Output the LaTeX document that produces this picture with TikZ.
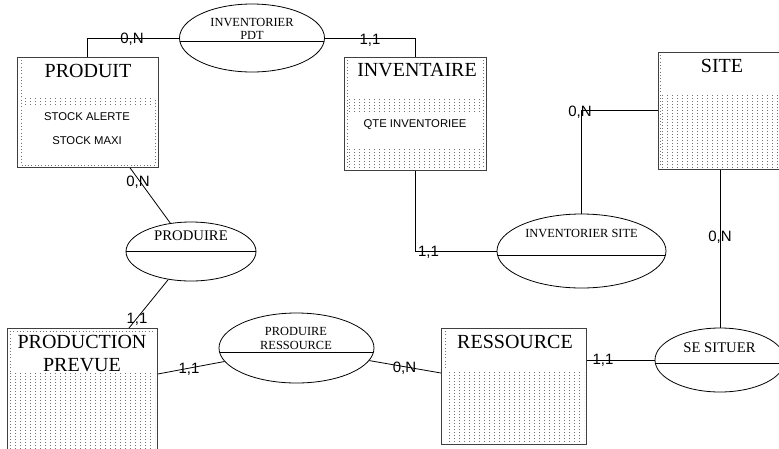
\documentclass[tikz,border=0pt]{standalone}
\usepackage{fontspec}
\setmainfont{Liberation Serif}
\newfontfamily\arialf{Liberation Sans}
\usetikzlibrary{patterns.meta,calc}
\tikzdeclarepattern{
  name=erdots,
  type=uncolored,
  bounding box={(0pt,0pt) and (5.3pt,3.3pt)},
  tile size={(5.3pt,3.3pt)},
  code={\pgfpathrectangle{\pgfpointorigin}{\pgfpoint{1pt}{1pt}}\pgfusepath{fill}}
}
\tikzset{
  entity/.style={draw=black!75, line width=0.8pt, rectangle, anchor=north west, inner sep=0pt},
  relation/.style={draw=black, line width=0.8pt, ellipse, inner sep=0pt},
  band/.style={pattern=erdots, pattern color=black!55},
  innerdot/.style={draw=black!55, line width=0.8pt, dash pattern=on 0.8pt off 2.5pt},
  link/.style={draw=black, line width=0.8pt},
  etitle/.style={font=\fontsize{20}{22}\selectfont, inner sep=0pt, text height=13.2pt, text depth=0pt},
  rtext/.style={font=\fontsize{12.4}{13}\selectfont, inner sep=0pt, text height=8.2pt, text depth=0pt},
  rtextb/.style={font=\fontsize{14.7}{15}\selectfont, inner sep=0pt, text height=9.7pt, text depth=0pt},
  attr/.style={font=\arialf\fontsize{11.3}{12}\selectfont, inner sep=0pt, text height=8.1pt, text depth=0pt},
  card/.style={font=\arialf\fontsize{15}{16}\selectfont, inner sep=0pt, text height=10.7pt, text depth=0pt},
}
\usetikzlibrary{shapes.geometric}
\begin{document}
\begin{tikzpicture}[x=1pt,y=-1pt]
\useasboundingbox (0,0) rectangle (779,448);
\fill[white] (0,0) rectangle (779,448);

% ---- dotted bands inside entities ----
% PRODUIT
\fill[band] (21,98) rectangle (155,104);
\draw[innerdot] (21,60) -- (21,165) -- (155,165) -- (155,98);
% INVENTAIRE
\fill[band] (347,98) rectangle (483,112);
\fill[band] (347,147) rectangle (483,168);
\draw[innerdot] (347,60) -- (347,168);
\draw[innerdot] (483,60) -- (483,168);
% SITE
\fill[band] (661,95) rectangle (779,167);
\draw[innerdot] (660,55) -- (660,167);
% PRODUCTION PREVUE
\fill[band] (10,373) rectangle (155,448);
\draw[innerdot] (10,331) -- (10,373);
\draw[innerdot] (10,331) -- (155,331);
% RESSOURCE
\fill[band] (445,370) rectangle (584,442);
\draw[innerdot] (445,331) -- (445,370);

% ---- entities ----
\node[entity, minimum width=141pt, minimum height=110pt] (produit) at (17,57) {};
\node[entity, minimum width=142pt, minimum height=113pt] (inventaire) at (344,57) {};
\node[entity, minimum width=127pt, minimum height=117pt] (site) at (658,52) {};
\node[entity, minimum width=150pt, minimum height=127pt] (prodprev) at (7,328) {};
\node[entity, minimum width=145pt, minimum height=116pt] (ressource) at (441,328) {};

\node[etitle] (tproduit) at (88,71) {PRODUIT};
\node[attr] (a1) at (87,116) {STOCK ALERTE};
\node[attr] (a2) at (87,140) {STOCK MAXI};
\node[etitle] (tinventaire) at (417,70) {INVENTAIRE};
\node[attr] (a3) at (415,123) {QTE INVENTORIEE};
\node[etitle] (tsite) at (722,66) {SITE};
\node[etitle] (tprod1) at (82,342) {PRODUCTION};
\node[etitle] (tprod2) at (82,365) {PREVUE};
\node[etitle] (tressource) at (515,341.5) {RESSOURCE};

% ---- relations ----
\node[relation, minimum width=145pt, minimum height=68pt,
  path picture={\draw[line width=0.8pt] ([yshift=-3.5pt]path picture bounding box.west) -- ([yshift=-3.5pt]path picture bounding box.east);}]
  (invpdt) at (252,38) {};
\node[relation, minimum width=130pt, minimum height=59pt,
  path picture={\draw[line width=0.8pt] ([yshift=0.5pt]path picture bounding box.west) -- ([yshift=0.5pt]path picture bounding box.east);}]
  (produire) at (191,251.5) {};
\node[relation, minimum width=169pt, minimum height=74pt,
  path picture={\draw[line width=0.8pt] ([yshift=-4pt]path picture bounding box.west) -- ([yshift=-4pt]path picture bounding box.east);}]
  (invsite) at (581.5,251) {};
\node[relation, minimum width=155pt, minimum height=70pt,
  path picture={\draw[line width=0.8pt] ([yshift=-4pt]path picture bounding box.west) -- ([yshift=-4pt]path picture bounding box.east);}]
  (prodress) at (296.5,348) {};
\node[relation, minimum width=130pt, minimum height=64pt,
  path picture={\draw[line width=0.8pt] ([yshift=-3pt]path picture bounding box.west) -- ([yshift=-3pt]path picture bounding box.east);}]
  (sesituer) at (720,360) {};

\node[rtext] (r1a) at (252,22.5) {INVENTORIER};
\node[rtext] (r1b) at (252,35.5) {PDT};
\node[rtextb] (r2) at (191,236) {PRODUIRE};
\node[rtext] (r3) at (581.5,233.5) {INVENTORIER SITE};
\node[rtext] (r4a) at (296,331.5) {PRODUIRE};
\node[rtext] (r4b) at (296,345.5) {RESSOURCE};
\node[rtextb] (r5) at (719.5,348) {SE SITUER};

% ---- connectors ----
\draw[link] ([xshift=70pt]produit.north west) |- (invpdt.west);
\draw[link] (invpdt.east) -| ([xshift=71pt]inventaire.north west);
\draw[link] ([xshift=113pt]produit.south west) -- (produire);
\draw[link] (produire) -- ([xshift=122pt]prodprev.north west);
\draw[link] ([yshift=-46pt]prodprev.north east) -- (prodress);
\draw[link] (prodress) -- ([yshift=-45pt]ressource.north west);
\draw[link] ([yshift=-32pt]ressource.north east) -- (sesituer.west);
\draw[link] (sesituer.north) -- (sesituer.north |- site.south);
\draw[link] ([xshift=71pt]inventaire.south west) |- (invsite.west);
\draw[link] (invsite.north) |- ([yshift=-58pt]site.north west);

% ---- cardinalities ----
\node[card] (c1) at (132,38.5) {0,N};
\node[card] (c2) at (370,39) {1,1};
\node[card] (c3) at (138,181) {0,N};
\node[card] (c4) at (137,318.5) {1,1};
\node[card] (c5) at (189,368.5) {1,1};
\node[card] (c6) at (404.5,367) {0,N};
\node[card] (c7) at (603,359) {1,1};
\node[card] (c8) at (720,236) {0,N};
\node[card] (c9) at (428.5,251.5) {1,1};
\node[card] (c10) at (580,111) {0,N};
\end{tikzpicture}
\end{document}
